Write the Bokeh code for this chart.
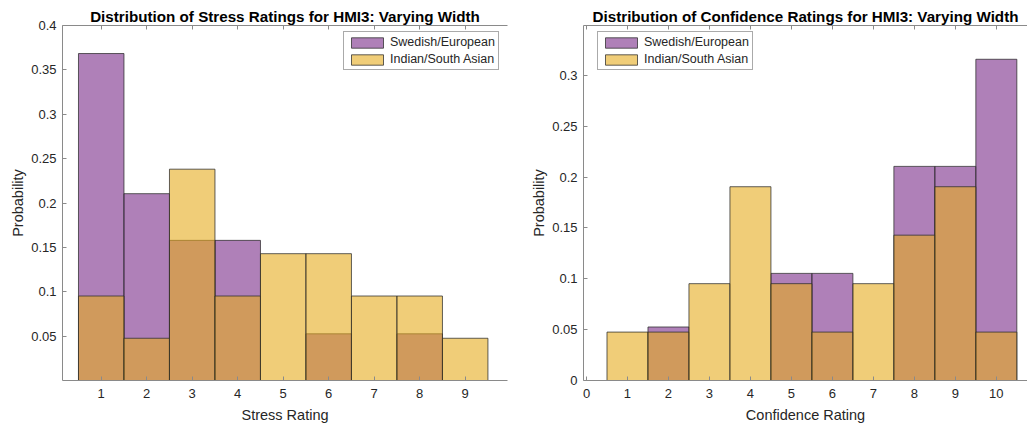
from bokeh.plotting import figure
from bokeh.layouts import row
from bokeh.models import (LinearAxis, FixedTicker, CustomJSTickFormatter, Range1d,
                          Legend, LegendItem, ColumnDataSource)
from bokeh.embed import file_html
from bokeh.resources import INLINE

# ---------------- data ----------------
stress_ratings = [1, 2, 3, 4, 5, 6, 7, 8, 9]
stress_swedish = [0.3684, 0.2105, 0.1579, 0.1579, 0.0, 0.0526, 0.0, 0.0526, 0.0]
stress_indian = [0.0952, 0.0476, 0.2381, 0.0952, 0.1429, 0.1429, 0.0952, 0.0952, 0.0476]

conf_ratings = [1, 2, 3, 4, 5, 6, 7, 8, 9, 10]
conf_swedish = [0.0, 0.0526, 0.0, 0.0, 0.1053, 0.1053, 0.0, 0.2105, 0.2105, 0.3158]
conf_indian = [0.0476, 0.0476, 0.0952, 0.1905, 0.0952, 0.0476, 0.0952, 0.1429, 0.1905, 0.0476]

stress_xticks = [1, 2, 3, 4, 5, 6, 7, 8, 9, 10]
stress_yticks = [0.05, 0.1, 0.15, 0.2, 0.25, 0.3, 0.35, 0.4]
conf_xticks = [0, 1, 2, 3, 4, 5, 6, 7, 8, 9, 10]
conf_yticks = [0, 0.05, 0.1, 0.15, 0.2, 0.25, 0.3, 0.35]

series_names = ["Swedish/European", "Indian/South Asian"]

PURPLE = "#7A2B89"
YELLOW = "#E6AC1E"
EDGE = "#2b2b2b"
AXIS = "#8a8a8a"
TXT = "#262626"
FONT = "Liberation Sans"

fmt = CustomJSTickFormatter(code="return String(+tick.toFixed(4));")
blank = CustomJSTickFormatter(code="return '';")


def make_plot(title, xlabel, xs, sw, ind, xticks, yticks, xr, yr, width,
              bl, br, legend_loc):
    p = figure(width=width, height=428, output_backend="svg", toolbar_location=None,
               x_range=Range1d(*xr), y_range=Range1d(*yr),
               min_border_left=bl, min_border_right=br, min_border_top=25,
               min_border_bottom=48, x_axis_location=None, y_axis_location=None)
    p.title.text = title
    p.title.text_font = FONT
    p.title.text_font_size = "15.2px"
    p.title.text_font_style = "bold"
    p.title.text_color = "black"
    p.title.align = "center"
    p.title.offset = 0
    p.title.standoff = 2
    p.outline_line_color = None
    p.grid.visible = False
    p.background_fill_color = "white"
    p.border_fill_color = "white"

    def style(ax, ticks):
        ax.ticker = FixedTicker(ticks=ticks)
        ax.formatter = fmt
        ax.axis_line_color = AXIS
        ax.major_tick_line_color = AXIS
        ax.major_tick_in = 4
        ax.major_tick_out = 0
        ax.minor_tick_line_color = None
        ax.major_label_text_font = FONT
        ax.major_label_text_font_size = "13px"
        ax.major_label_text_color = TXT
        ax.axis_label_text_font = FONT
        ax.axis_label_text_font_size = "14.5px"
        ax.axis_label_text_font_style = "normal"
        ax.axis_label_text_color = TXT

    xa = LinearAxis(axis_label=xlabel)
    ya = LinearAxis(axis_label="Probability")
    ta = LinearAxis()
    style(xa, xticks)
    style(ya, yticks)
    style(ta, xticks)
    ta.formatter = blank
    ta.major_label_standoff = 0
    xa.major_label_standoff = 8
    xa.axis_label_standoff = 6
    ya.major_label_standoff = 6
    ya.axis_label_standoff = 2
    p.add_layout(xa, "below")
    p.add_layout(ya, "left")
    p.add_layout(ta, "above")

    left = [x - 0.5 for x in xs]
    right = [x + 0.5 for x in xs]
    s1 = ColumnDataSource(dict(left=left, right=right, top=sw))
    s2 = ColumnDataSource(dict(left=left, right=right, top=ind))
    r1 = p.quad(left="left", right="right", bottom=0, top="top", source=s1,
                fill_color=PURPLE, fill_alpha=0.6, line_color=EDGE, line_alpha=0.75,
                line_width=1)
    r2 = p.quad(left="left", right="right", bottom=0, top="top", source=s2,
                fill_color=YELLOW, fill_alpha=0.6, line_color=EDGE, line_alpha=0.75,
                line_width=1)

    leg = Legend(items=[LegendItem(label=series_names[0], renderers=[r1]),
                        LegendItem(label=series_names[1], renderers=[r2])],
                 location=legend_loc)
    leg.label_text_font = FONT
    leg.label_text_font_size = "12.5px"
    leg.label_text_color = TXT
    leg.glyph_width = 40
    leg.glyph_height = 13
    leg.label_height = 13
    leg.label_standoff = 3
    leg.padding = 3
    leg.spacing = 3
    leg.margin = 0
    leg.border_line_color = "#555555"
    leg.border_line_width = 1
    leg.background_fill_color = "white"
    leg.background_fill_alpha = 1
    p.add_layout(leg, "center")
    return p


p1 = make_plot("Distribution of Stress Ratings for HMI3: Varying Width", "Stress Rating",
               stress_ratings, stress_swedish, stress_indian, stress_xticks, stress_yticks,
               (0.149, 9.93), (0, 0.4), 510, 62, 3, (281, 310))
p2 = make_plot("Distribution of Confidence Ratings for HMI3: Varying Width", "Confidence Rating",
               conf_ratings, conf_swedish, conf_indian, conf_xticks, conf_yticks,
               (-0.073, 10.76), (0, 0.349), 517, 73, 0, (14, 310))

layout = row(p1, p2)
open("out.html", "w").write(file_html(layout, INLINE))
